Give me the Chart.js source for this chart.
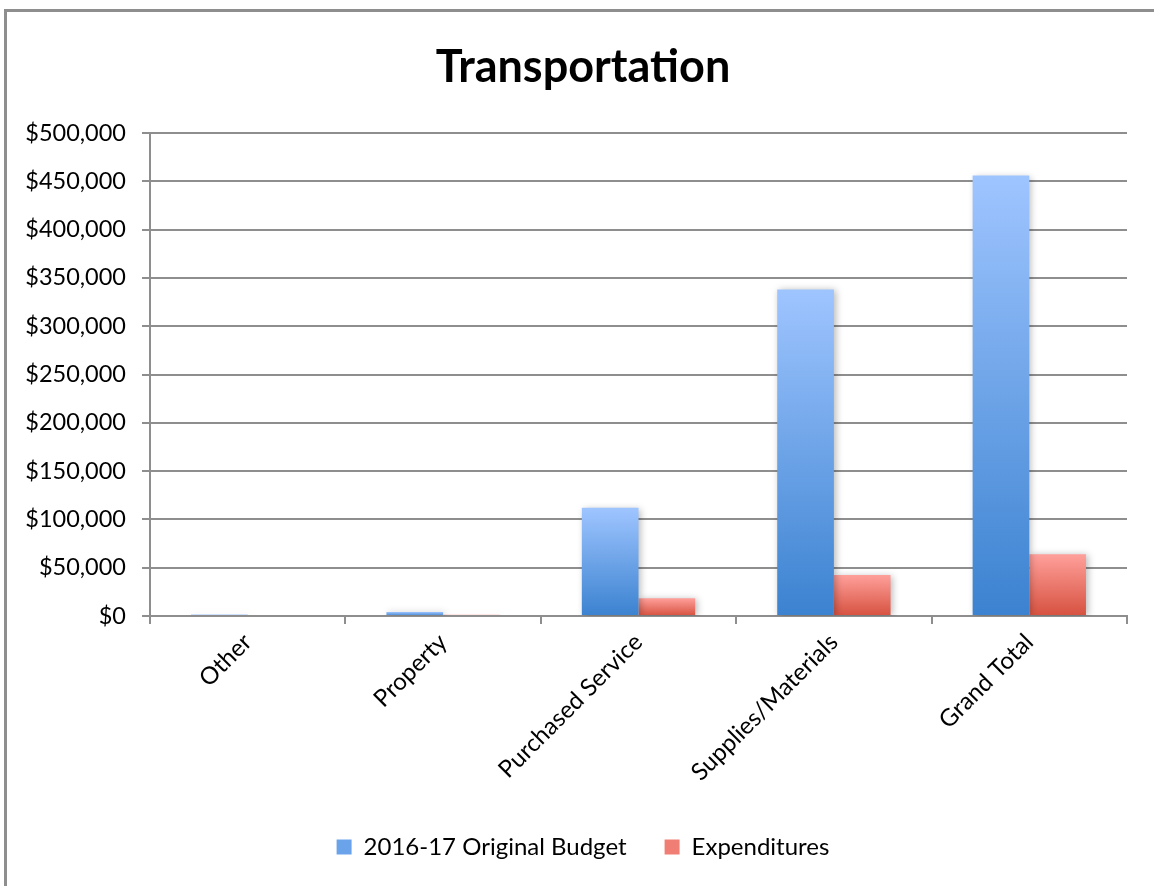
<!DOCTYPE html>
<html>
<head>
<meta charset="utf-8">
<script src="https://cdn.jsdelivr.net/npm/chart.js@4.4.1/dist/chart.umd.min.js"></script>
<style>
  html, body { margin: 0; padding: 0; background: #fff; overflow: hidden; }
  #wrap { position: relative; width: 1154px; height: 886px; overflow: hidden; }
  #frame { position: absolute; left: 4px; top: 9px; width: 1200px; height: 1000px;
           border-left: 3px solid #8e8e8e; border-top: 3px solid #8e8e8e; }
  canvas { position: absolute; left: 0; top: 0; }
</style>
</head>
<body>
<div id="wrap">
  <div id="frame"></div>
  <canvas id="chart" width="1166" height="886"></canvas>
</div>
<script>
const categories = ['Other', 'Property', 'Purchased Service', 'Supplies/Materials', 'Grand Total'];
const budget = [1500, 4200, 112000, 338000, 456000];
const expenditures = [1000, 1200, 18500, 42500, 64000];
const seriesNames = ['2016-17 Original Budget', 'Expenditures'];
const yTicks = [0, 50000, 100000, 150000, 200000, 250000, 300000, 350000, 400000, 450000, 500000];

const FONT = 'Lato, "Open Sans", sans-serif';
const GRID = '#8e8e8e';

function barGradient(top, bottom) {
    return (c) => {
        const chart = c.chart;
        if (!chart.chartArea || c.type !== 'data') return bottom;
        const y = chart.scales.y;
        const y0 = y.getPixelForValue(c.raw);
        const y1 = y.getPixelForValue(0);
        const g = chart.ctx.createLinearGradient(0, y0, 0, y1);
        g.addColorStop(0, top);
        g.addColorStop(1, bottom);
        return g;
    };
}

const barShadow = {
    id: 'barShadow',
    beforeDatasetsDraw(chart) {
        const ctx = chart.ctx;
        ctx.save();
        ctx.shadowColor = 'rgba(0,0,0,0.28)';
        ctx.shadowBlur = 7;
        ctx.shadowOffsetX = 2;
        ctx.shadowOffsetY = 1;
    },
    afterDatasetsDraw(chart) {
        chart.ctx.restore();
    }
};

new Chart(document.getElementById('chart'), {
    type: 'bar',
    data: {
        labels: categories,
        datasets: [
            {
                label: seriesNames[0],
                data: budget,
                backgroundColor: barGradient('#9fc5ff', '#3b82d0'),
                barPercentage: 1,
                categoryPercentage: 0.58
            },
            {
                label: seriesNames[1],
                data: expenditures,
                backgroundColor: barGradient('#ffa09b', '#d6513f'),
                barPercentage: 1,
                categoryPercentage: 0.58
            }
        ]
    },
    plugins: [barShadow],
    options: {
        responsive: false,
        animation: false,
        layout: { padding: { top: 40, right: 0, bottom: 17, left: 0 } },
        plugins: {
            title: {
                display: true,
                text: 'Transportation',
                color: '#000',
                font: { family: FONT, size: 45, weight: 'bold' },
                padding: { top: 0, bottom: 39 }
            },
            legend: {
                position: 'bottom',
                labels: {
                    color: '#000',
                    font: { family: FONT, size: 24 },
                    boxWidth: 15,
                    boxHeight: 15,
                    padding: 38,
                    generateLabels(chart) {
                        const fills = ['#6aa3ea', '#f07e74'];
                        return chart.data.datasets.map((d, i) => ({
                            text: d.label, fillStyle: fills[i], strokeStyle: fills[i],
                            lineWidth: 0, datasetIndex: i, hidden: false
                        }));
                    }
                }
            },
            tooltip: { enabled: false }
        },
        scales: {
            x: {
                grid: { offset: true, drawOnChartArea: false, drawTicks: true, tickLength: 8, color: GRID, lineWidth: 2 },
                border: { display: true, color: GRID, width: 2 },
                ticks: {
                    color: '#000',
                    font: { family: FONT, size: 24 },
                    maxRotation: 45,
                    minRotation: 45,
                    padding: 4
                },
                afterFit(s) { s.height = 181; }
            },
            y: {
                min: 0,
                max: 500000,
                afterBuildTicks(s) { s.ticks = yTicks.map(v => ({ value: v })); },
                grid: { color: GRID, lineWidth: 2, tickLength: 8 },
                border: { display: true, color: GRID, width: 2 },
                ticks: {
                    color: '#000',
                    font: { family: FONT, size: 23.5 },
                    padding: 16,
                    callback: v => '$' + v.toLocaleString('en-US')
                },
                afterFit(s) { s.width = 150; }
            },
            // empty right-hand spacer so the title sits where it does in the original
            spacer: {
                type: 'linear',
                position: 'right',
                grid: { display: false },
                border: { display: false },
                ticks: { display: false },
                afterFit(s) { s.width = 39; }
            }
        }
    }
});
</script>
</body>
</html>
